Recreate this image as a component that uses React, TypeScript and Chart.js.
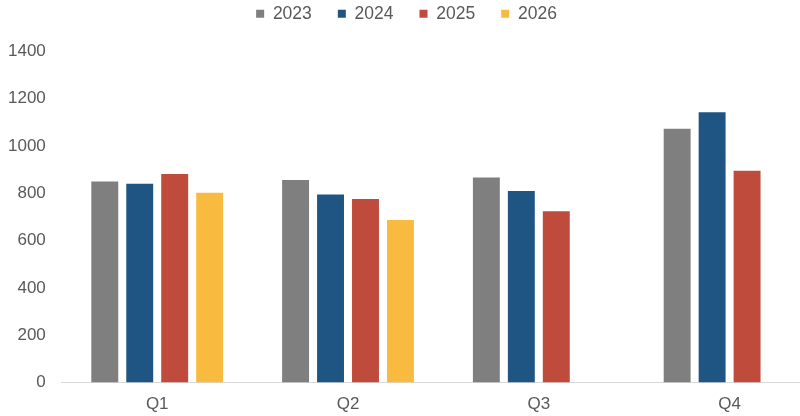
import React, { useEffect, useRef } from 'react';
import { Chart, registerables } from 'chart.js';

Chart.register(...registerables);

const quarters = ['Q1', 'Q2', 'Q3', 'Q4'];
const years = ['2023', '2024', '2025', '2026'];
const values2023 = [850, 857, 867, 1073];
const values2024 = [841, 795, 810, 1143];
const values2025 = [882, 776, 724, 896];
const values2026 = [803, 687, null, null];
const yearColors = ['#7f7f7f', '#1f5582', '#be4b3b', '#f9bb3f'];

// adds room under the legend so the plot starts lower, and nudges it sideways
const legendTweak = {
  id: 'legendTweak',
  beforeInit(chart: any) {
    const fit = chart.legend.fit;
    chart.legend.fit = function () {
      fit.bind(chart.legend)();
      this.height += 19;
    };
  },
  afterLayout(chart: any) {
    chart.legend.left -= 2;
    chart.legend.right -= 2;
  },
};

const App: React.FC = () => {
  const chartRef = useRef<HTMLCanvasElement>(null);
  const chartInstance = useRef<Chart | null>(null);

  useEffect(() => {
    document.body.style.margin = '0';
    document.body.style.overflow = 'hidden';
    if (!chartRef.current) return;
    if (chartInstance.current) chartInstance.current.destroy();

    const series = [values2023, values2024, values2025, values2026];
    const family = '"Liberation Sans", Arial, sans-serif';
    const font = { family, size: 17 };

    chartInstance.current = new Chart(chartRef.current, {
      type: 'bar',
      data: {
        labels: quarters,
        datasets: years.map((y, i) => ({
          label: y,
          data: series[i],
          backgroundColor: yearColors[i],
          borderWidth: 0,
          categoryPercentage: 0.733,
          barPercentage: 0.77,
        })),
      },
      plugins: [legendTweak],
      options: {
        responsive: false,
        animation: false,
        layout: { padding: { top: -21, left: -8, right: 5, bottom: -11 } },
        plugins: {
          legend: {
            position: 'top',
            labels: {
              boxWidth: 8,
              boxHeight: 8,
              padding: 26,
              color: '#595959',
              font: { family, size: 17.5 },
            },
          },
          tooltip: { enabled: false },
        },
        scales: {
          x: {
            grid: { display: false, drawTicks: false },
            border: { display: true, color: '#d9d9d9', width: 1 },
            ticks: { color: '#595959', font, padding: 12 },
          },
          y: {
            min: 0,
            max: 1400,
            grid: { display: false, drawTicks: false },
            border: { display: false },
            ticks: {
              stepSize: 200,
              color: '#595959',
              font,
              padding: 16,
              callback: (v) => String(v),
            },
          },
        },
      },
    });

    return () => {
      if (chartInstance.current) {
        chartInstance.current.destroy();
        chartInstance.current = null;
      }
    };
  }, []);

  return (
    <div style={{ width: 830, height: 416 }}>
      <canvas ref={chartRef} width={830} height={416} />
    </div>
  );
};

export default App;
